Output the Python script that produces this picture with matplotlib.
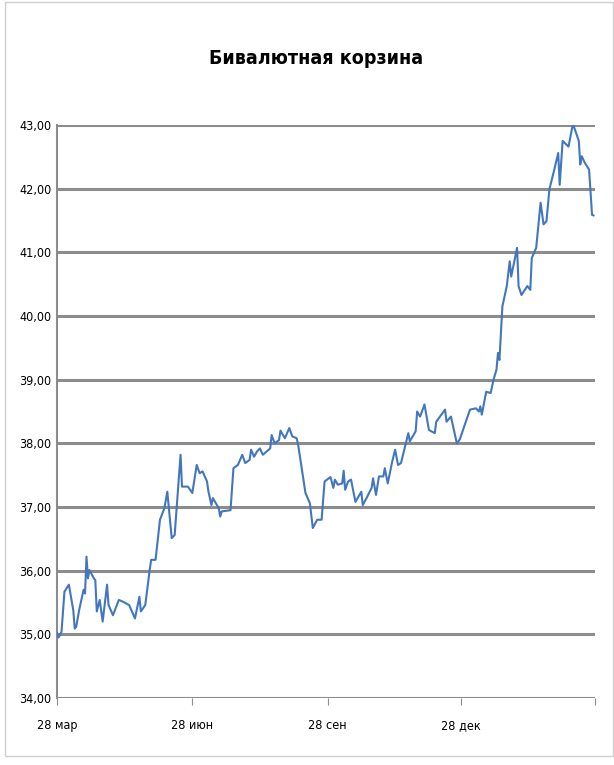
import matplotlib
matplotlib.use("Agg")
import matplotlib.pyplot as plt
from matplotlib.patches import Rectangle

# days since 28 Mar, basket value (rub)
days = [0, 1, 3, 5, 8, 11, 12, 13, 15, 18, 19, 20, 21, 22, 25, 26, 27, 29, 31, 34,
        35, 38, 42, 45, 49, 53, 56, 57, 60, 63, 64, 67, 70, 73, 75, 78, 80, 84, 85, 89,
        92, 95, 97, 99, 102, 103, 105, 106, 110, 111, 112, 118, 120, 123, 126, 128, 131, 132, 134, 136,
        138, 140, 145, 146, 148, 151, 152, 155, 158, 160, 163, 164, 169, 172, 174, 177, 180, 182, 186, 188,
        189, 191, 194, 195, 196, 198, 200, 203, 207, 208, 211, 214, 215, 217, 219, 222, 223, 225, 228, 230,
        232, 234, 239, 240, 244, 245, 247, 250, 253, 257, 258, 264, 265, 268, 272, 274, 279, 281, 285, 287,
        288, 289, 292, 295, 297, 299, 300, 301, 303, 306, 308, 309, 313, 314, 316, 320, 322, 323, 326, 329,
        331, 333, 335, 338, 341, 342, 344, 348, 351, 355, 356, 357, 359, 362, 364, 365]
values = [35.02, 34.95, 35.04, 35.67, 35.78, 35.38, 35.09, 35.12, 35.38, 35.70, 35.64, 36.22, 35.88, 36.01, 35.88, 35.85, 35.36, 35.54, 35.20, 35.78,
          35.46, 35.30, 35.54, 35.51, 35.46, 35.25, 35.59, 35.36, 35.46, 36.01, 36.17, 36.17, 36.80, 36.98, 37.24, 36.51, 36.56, 37.82, 37.32, 37.32,
          37.22, 37.66, 37.53, 37.56, 37.40, 37.24, 37.03, 37.14, 36.98, 36.85, 36.93, 36.95, 37.61, 37.66, 37.82, 37.69, 37.74, 37.90, 37.79, 37.87,
          37.92, 37.82, 37.92, 38.13, 38.00, 38.05, 38.20, 38.08, 38.24, 38.11, 38.08, 37.98, 37.22, 37.06, 36.67, 36.80, 36.80, 37.40, 37.47, 37.30,
          37.43, 37.35, 37.37, 37.57, 37.27, 37.40, 37.43, 37.08, 37.24, 37.03, 37.16, 37.30, 37.45, 37.19, 37.48, 37.48, 37.61, 37.37, 37.71, 37.90,
          37.66, 37.69, 38.16, 38.03, 38.19, 38.50, 38.42, 38.61, 38.21, 38.16, 38.34, 38.53, 38.34, 38.42, 38.00, 38.06, 38.40, 38.53, 38.55, 38.50,
          38.58, 38.45, 38.81, 38.79, 39.00, 39.16, 39.42, 39.31, 40.15, 40.47, 40.86, 40.62, 41.07, 40.47, 40.33, 40.47, 40.41, 40.91, 41.07, 41.78,
          41.44, 41.49, 41.99, 42.27, 42.56, 42.06, 42.75, 42.66, 43.02, 42.75, 42.38, 42.51, 42.41, 42.30, 41.59, 41.58]

tick_days = [0, 92, 184, 275]
tick_labels = ["28 мар", "28 июн", "28 сен", "28 дек"]
y_ticks = [34, 35, 36, 37, 38, 39, 40, 41, 42, 43]

plt.rcParams['font.family'] = ['DejaVu Sans']
plt.rcParams['font.stretch'] = 'condensed'

fig = plt.figure(figsize=(6.14, 7.65), dpi=100)
fig.patches.append(Rectangle((0.008, 0.012), 0.99, 0.985, transform=fig.transFigure,
                             fill=False, edgecolor="#d0d0d0", linewidth=1))
ax = fig.add_axes([0.093, 0.0876, 0.876, 0.749])
for y in y_ticks:
    ax.axhline(y, color="#8c8c8c", linewidth=2.2, zorder=1)
ax.plot(days, values, color="#4277bd", linewidth=1.5, zorder=3)

ax.set_xlim(0, 366)
ax.set_ylim(34, 43)
ax.set_yticks(y_ticks)
ax.set_yticklabels([f"{y},00" for y in y_ticks], fontsize=9, stretch="condensed")
ax.set_xticks(tick_days + [366])
ax.set_xticklabels(tick_labels + [""], fontsize=9, stretch="condensed")
ax.tick_params(axis="y", length=0, pad=4)
ax.tick_params(axis="x", length=5, color="#8c8c8c", direction="out", pad=10)
for s in ["top", "right", "bottom"]:
    ax.spines[s].set_visible(False)
ax.spines["left"].set_color("#8c8c8c")
ax.spines["left"].set_linewidth(1.5)

fig.text(0.515, 0.924, "Бивалютная корзина", ha="center", va="center",
         fontsize=14, fontweight="bold", stretch="condensed")
fig.savefig("out.png", dpi=100)
